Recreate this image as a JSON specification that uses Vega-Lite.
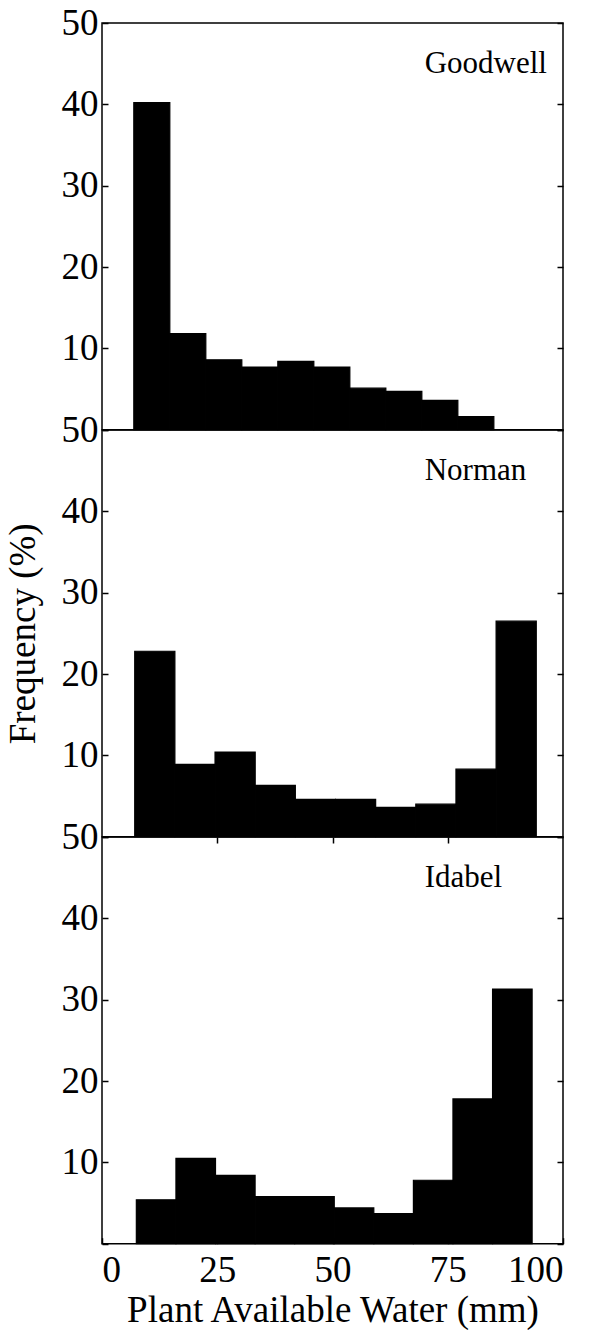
{
  "$schema": "https://vega.github.io/schema/vega-lite/v6.json",
  "background": "white",
  "padding": {"left": 3, "top": 3, "right": 0, "bottom": 0},
  "datasets": {
    "bins": [
      {"site": "Goodwell", "lo": 6.9, "hi": 14.71, "pct": 40.2},
      {"site": "Goodwell", "lo": 14.71, "hi": 22.52, "pct": 11.8},
      {"site": "Goodwell", "lo": 22.52, "hi": 30.33, "pct": 8.6},
      {"site": "Goodwell", "lo": 30.33, "hi": 38.14, "pct": 7.7},
      {"site": "Goodwell", "lo": 38.14, "hi": 45.95, "pct": 8.4},
      {"site": "Goodwell", "lo": 45.95, "hi": 53.76, "pct": 7.7},
      {"site": "Goodwell", "lo": 53.76, "hi": 61.57, "pct": 5.1},
      {"site": "Goodwell", "lo": 61.57, "hi": 69.38, "pct": 4.7},
      {"site": "Goodwell", "lo": 69.38, "hi": 77.19, "pct": 3.6},
      {"site": "Goodwell", "lo": 77.19, "hi": 85.0, "pct": 1.6},
      {"site": "Norman", "lo": 7.1, "hi": 15.81, "pct": 22.8},
      {"site": "Norman", "lo": 15.81, "hi": 24.52, "pct": 8.9},
      {"site": "Norman", "lo": 24.52, "hi": 33.23, "pct": 10.4},
      {"site": "Norman", "lo": 33.23, "hi": 41.94, "pct": 6.3},
      {"site": "Norman", "lo": 41.94, "hi": 50.65, "pct": 4.6},
      {"site": "Norman", "lo": 50.65, "hi": 59.36, "pct": 4.6},
      {"site": "Norman", "lo": 59.36, "hi": 68.07, "pct": 3.6},
      {"site": "Norman", "lo": 68.07, "hi": 76.78, "pct": 4.0},
      {"site": "Norman", "lo": 76.78, "hi": 85.49, "pct": 8.3},
      {"site": "Norman", "lo": 85.49, "hi": 94.2, "pct": 26.5},
      {"site": "Idabel", "lo": 7.45, "hi": 16.04, "pct": 5.4},
      {"site": "Idabel", "lo": 16.04, "hi": 24.62, "pct": 10.5},
      {"site": "Idabel", "lo": 24.62, "hi": 33.21, "pct": 8.4},
      {"site": "Idabel", "lo": 33.21, "hi": 41.79, "pct": 5.8},
      {"site": "Idabel", "lo": 41.79, "hi": 50.38, "pct": 5.8},
      {"site": "Idabel", "lo": 50.38, "hi": 58.96, "pct": 4.4},
      {"site": "Idabel", "lo": 58.96, "hi": 67.55, "pct": 3.7},
      {"site": "Idabel", "lo": 67.55, "hi": 76.13, "pct": 7.8},
      {"site": "Idabel", "lo": 76.13, "hi": 84.72, "pct": 17.8},
      {"site": "Idabel", "lo": 84.72, "hi": 93.3, "pct": 31.3}
    ],
    "sites": [
      {"site": "Goodwell"},
      {"site": "Norman"},
      {"site": "Idabel"}
    ]
  },
  "vconcat": [
    {
      "width": 461,
      "height": 406.7,
      "layer": [
        {
          "data": {"name": "bins"},
          "transform": [{"filter": "datum.site == 'Goodwell'"}],
          "mark": {"type": "bar", "color": "black", "stroke": "black", "strokeWidth": 1.2},
          "encoding": {
            "x": {"field": "lo", "type": "quantitative", "scale": {"domain": [0, 100], "nice": false}, "axis": null},
            "x2": {"field": "hi"},
            "y": {"field": "pct", "type": "quantitative", "scale": {"domain": [0, 50], "nice": false},
                  "axis": {"orient": "left", "values": [0, 10, 20, 30, 40, 50], "labelExpr": "datum.value == 0 ? '' : datum.label", "tickSize": -6, "labelPadding": 10, "title": null}},
            "y2": {"datum": 0}
          }
        },
        {
          "data": {"name": "sites"},
          "transform": [{"filter": "datum.site == 'Goodwell'"}],
          "mark": {"type": "text", "align": "left", "baseline": "alphabetic", "font": "Liberation Serif", "fontSize": 31, "color": "black"},
          "encoding": {
            "x": {"datum": 70, "type": "quantitative", "axis": null},
            "y": {"datum": 43.8, "type": "quantitative", "axis": {"orient": "right", "values": [0, 10, 20, 30, 40, 50], "labels": false, "tickSize": -6, "title": null}},
            "text": {"field": "site"}
          }
        }
      ],
      "resolve": {"axis": {"x": "independent", "y": "independent"}}
    },
    {
      "width": 461,
      "height": 406.7,
      "layer": [
        {
          "data": {"name": "bins"},
          "transform": [{"filter": "datum.site == 'Norman'"}],
          "mark": {"type": "bar", "color": "black", "stroke": "black", "strokeWidth": 1.2},
          "encoding": {
            "x": {"field": "lo", "type": "quantitative", "scale": {"domain": [0, 100], "nice": false}, "axis": null},
            "x2": {"field": "hi"},
            "y": {"field": "pct", "type": "quantitative", "scale": {"domain": [0, 50], "nice": false},
                  "axis": {"orient": "left", "values": [0, 10, 20, 30, 40, 50], "labelExpr": "datum.value == 0 ? '' : datum.label", "tickSize": -6, "labelPadding": 10, "title": "Frequency (%)", "titlePadding": 19}},
            "y2": {"datum": 0}
          }
        },
        {
          "data": {"name": "sites"},
          "transform": [{"filter": "datum.site == 'Norman'"}],
          "mark": {"type": "text", "align": "left", "baseline": "alphabetic", "font": "Liberation Serif", "fontSize": 31, "color": "black"},
          "encoding": {
            "x": {"datum": 70, "type": "quantitative", "axis": null},
            "y": {"datum": 43.8, "type": "quantitative", "axis": {"orient": "right", "values": [0, 10, 20, 30, 40, 50], "labels": false, "tickSize": -6, "title": null}},
            "text": {"field": "site"}
          }
        }
      ],
      "resolve": {"axis": {"x": "independent", "y": "independent"}}
    },
    {
      "width": 461,
      "height": 406.7,
      "layer": [
        {
          "data": {"name": "bins"},
          "transform": [{"filter": "datum.site == 'Idabel'"}],
          "mark": {"type": "bar", "color": "black", "stroke": "black", "strokeWidth": 1.2},
          "encoding": {
            "x": {"field": "lo", "type": "quantitative", "scale": {"domain": [0, 100], "nice": false},
                  "axis": {"orient": "bottom", "values": [0, 25, 50, 75, 100], "tickSize": -6, "labelPadding": 15, "title": "Plant Available Water (mm)", "titlePadding": 4}},
            "x2": {"field": "hi"},
            "y": {"field": "pct", "type": "quantitative", "scale": {"domain": [0, 50], "nice": false},
                  "axis": {"orient": "left", "values": [0, 10, 20, 30, 40, 50], "labelExpr": "datum.value == 0 ? '' : datum.label", "tickSize": -6, "labelPadding": 10, "title": null}},
            "y2": {"datum": 0}
          }
        },
        {
          "data": {"name": "sites"},
          "transform": [{"filter": "datum.site == 'Idabel'"}],
          "mark": {"type": "text", "align": "left", "baseline": "alphabetic", "font": "Liberation Serif", "fontSize": 31, "color": "black"},
          "encoding": {
            "x": {"datum": 70, "type": "quantitative", "axis": {"orient": "top", "values": [25, 50, 75], "labels": false, "tickSize": -6, "title": null}},
            "y": {"datum": 43.8, "type": "quantitative", "axis": {"orient": "right", "values": [0, 10, 20, 30, 40, 50], "labels": false, "tickSize": -6, "title": null}},
            "text": {"field": "site"}
          }
        }
      ],
      "resolve": {"axis": {"x": "independent", "y": "independent"}}
    }
  ],
  "spacing": 0,
  "bounds": "flush",
  "config": {
    "view": {"stroke": "black", "strokeWidth": 1.5},
    "axis": {
      "domain": false,
      "grid": false,
      "labelFont": "Liberation Serif",
      "titleFont": "Liberation Serif",
      "labelFontSize": 37,
      "titleFontSize": 37,
      "labelColor": "black",
      "titleColor": "black",
      "titleFontWeight": "normal",
      "tickColor": "black",
      "tickWidth": 1.5
    }
  }
}
